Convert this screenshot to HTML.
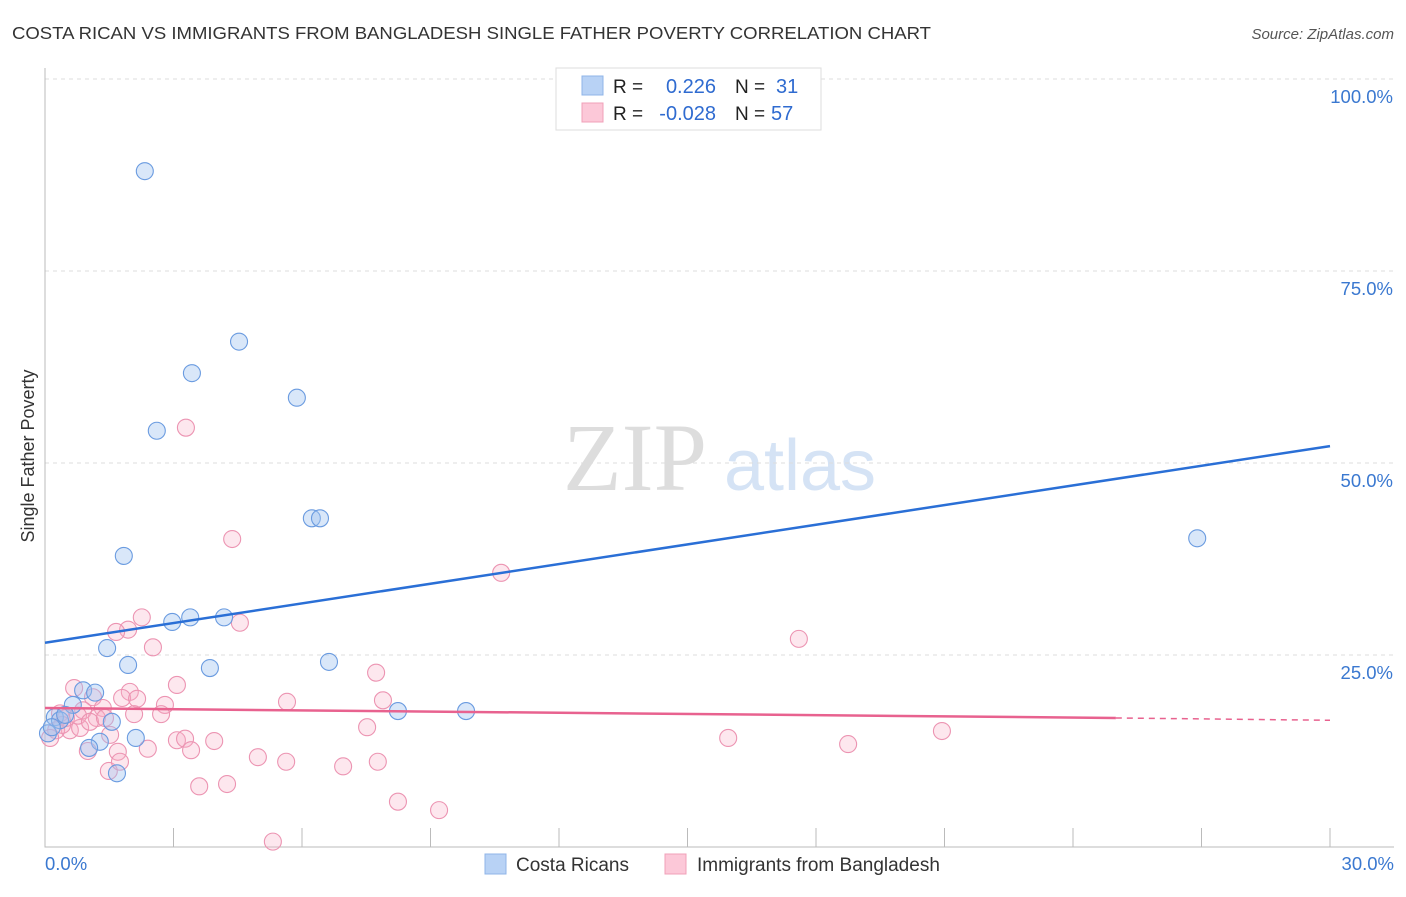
<!DOCTYPE html>
<html><head><meta charset="utf-8"><style>
body{margin:0;background:#fff;font-family:"Liberation Sans",sans-serif;}
svg text{font-family:"Liberation Sans",sans-serif;}
</style></head><body>
<svg width="1406" height="892" xmlns="http://www.w3.org/2000/svg">
<text x="12" y="39" font-size="17.5" fill="#333" textLength="919" lengthAdjust="spacingAndGlyphs">COSTA RICAN VS IMMIGRANTS FROM BANGLADESH SINGLE FATHER POVERTY CORRELATION CHART</text>
<text x="1394" y="39" font-size="15" fill="#555" font-style="italic" text-anchor="end">Source: ZipAtlas.com</text>
<g>
<text x="635" y="490" font-size="96" fill="#ddd" text-anchor="middle" font-family="Liberation Serif, serif" style="font-family:'Liberation Serif',serif">ZIP</text>
<text x="800" y="490" font-size="72" fill="#d5e3f5" text-anchor="middle">atlas</text>
</g>
<g id="grid"></g>
<g id="axes"></g>
<g id="marks"></g>
<text transform="translate(34,456) rotate(-90)" font-size="18" fill="#333" text-anchor="middle">Single Father Poverty</text>
<g>
<rect x="556" y="68" width="265" height="62" fill="#fff" stroke="#ddd"/>
<rect x="582" y="76" width="21" height="19" fill="#b8d2f5" stroke="#8fb4e8"/>
<rect x="582" y="103" width="21" height="19" fill="#fcc8d8" stroke="#f0a0b8"/>
<text x="613" y="93" font-size="19" fill="#222">R =</text>
<text x="716" y="93" font-size="20" fill="#2f6bd0" text-anchor="end">0.226</text>
<text x="735" y="93" font-size="19" fill="#222">N =</text>
<text x="776" y="93" font-size="20" fill="#2f6bd0">31</text>
<text x="613" y="120" font-size="19" fill="#222">R =</text>
<text x="716" y="120" font-size="20" fill="#2f6bd0" text-anchor="end">-0.028</text>
<text x="735" y="120" font-size="19" fill="#222">N =</text>
<text x="771" y="120" font-size="20" fill="#2f6bd0">57</text>
</g>
<g>
<rect x="485" y="854" width="21" height="20" fill="#b8d2f5" stroke="#8fb4e8"/>
<text x="516" y="871" font-size="19" fill="#333">Costa Ricans</text>
<rect x="665" y="854" width="21" height="20" fill="#fcc8d8" stroke="#f0a0b8"/>
<text x="697" y="871" font-size="19" fill="#333">Immigrants from Bangladesh</text>
</g>
</svg>
<script>
const yTicks=[25,50,75,100];
const yTickLabels=["25.0%","50.0%","75.0%","100.0%"];
const xTickLabels=["0.0%","30.0%"];
const blueX=[2.33,4.53,3.43,5.88,2.61,6.23,6.42,1.84,26.9,2.97,3.39,4.18,1.45,1.94,3.85,6.63,0.89,1.17,0.65,0.23,0.35,1.56,0.07,1.28,1.03,2.12,1.68,8.24,9.83,0.16,0.47];
const blueY=[88.0,65.8,61.7,58.5,54.2,42.8,42.8,37.9,40.2,29.3,29.9,29.9,25.9,23.7,23.3,24.1,20.4,20.1,18.5,16.9,16.5,16.3,14.8,13.7,12.9,14.2,9.6,17.7,17.7,15.6,17.2];
const pinkX=[3.29,4.37,10.65,17.6,2.26,1.94,1.66,4.55,2.52,7.73,3.08,0.68,1.98,1.80,2.15,1.12,2.80,5.65,7.89,1.35,0.89,2.08,2.71,1.21,0.35,0.58,0.82,1.52,7.52,15.95,20.94,18.75,3.08,3.27,3.95,3.41,2.40,1.00,1.70,4.97,5.63,6.96,7.77,1.49,1.75,3.60,4.25,8.24,9.20,5.32,0.26,0.49,0.12,0.40,0.77,1.05,1.40];
const pinkY=[54.6,40.1,35.7,27.1,29.9,28.3,28.0,29.2,26.0,22.7,21.1,20.7,20.2,19.4,19.3,19.5,18.5,18.9,19.1,18.1,17.8,17.3,17.3,16.8,17.4,15.2,15.5,14.6,15.6,14.2,15.1,13.4,13.9,14.1,13.8,12.6,12.8,12.5,12.4,11.7,11.1,10.5,11.1,9.9,11.1,7.9,8.2,5.9,4.8,0.7,15.2,16.8,14.2,15.9,17.1,16.3,16.8];
const blueTrend=[26.6,52.2];
const pinkTrend=[18.1,16.8,16.5];
const NS="http://www.w3.org/2000/svg";
const sx=v=>45+v*(1285/30), sy=v=>847-v*7.68;
function mk(tag,attrs,parent){const e=document.createElementNS(NS,tag);for(const k in attrs)e.setAttribute(k,attrs[k]);document.getElementById(parent).appendChild(e);return e;}
yTicks.forEach((t,i)=>{
  const g=mk('line',{x1:45,x2:1394,y1:sy(t),y2:sy(t),stroke:'#ddd','stroke-dasharray':'4,4'},'grid');
  
  
  const l=mk('text',{x:1393,y:sy(t)+24,'font-size':18.5,fill:'#3a78d0','text-anchor':'end'},'grid');
  l.textContent=yTickLabels[i];
  
  
});
const ax=mk('path',{d:`M45 68V847H1394`,stroke:'#bbb',fill:'none'},'axes');


for(let i=1;i<=10;i++){const t=mk('line',{x1:sx(i*3),x2:sx(i*3),y1:828,y2:847,stroke:'#bbb'},'axes');

}
[[0,'start',45],[30,'end',1394]].forEach((a,i)=>{const t=mk('text',{x:a[2],y:870,'font-size':18.5,fill:'#3a78d0','text-anchor':a[1]},'axes');t.textContent=xTickLabels[i];

});
pinkX.forEach((x,i)=>{const c=mk('circle',{cx:sx(x),cy:sy(pinkY[i]),r:8.5,fill:'rgba(248,175,200,0.3)',stroke:'#ec94b2','stroke-width':1.1},'marks');

});
blueX.forEach((x,i)=>{const c=mk('circle',{cx:sx(x),cy:sy(blueY[i]),r:8.5,fill:'rgba(160,195,240,0.4)',stroke:'#6a9be0','stroke-width':1.1},'marks');

});
const bl=mk('line',{x1:sx(0),y1:sy(blueTrend[0]),x2:sx(30),y2:sy(blueTrend[1]),stroke:'#2a6fd6','stroke-width':2.5},'marks');


const pl=mk('line',{x1:sx(0),y1:sy(pinkTrend[0]),x2:sx(25),y2:sy(pinkTrend[1]),stroke:'#e8628f','stroke-width':2.5},'marks');


const pd=mk('line',{x1:sx(25),y1:sy(pinkTrend[1]),x2:sx(30),y2:sy(pinkTrend[2]),stroke:'#e8628f','stroke-width':1.5,'stroke-dasharray':'6,5'},'marks');


</script>
</body></html>
